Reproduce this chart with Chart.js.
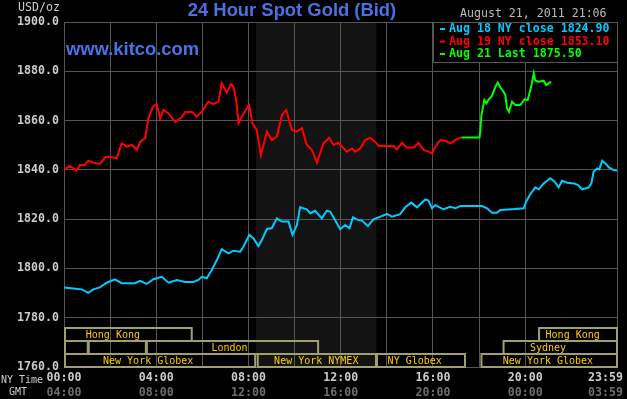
<!DOCTYPE html>
<html>
<head>
<meta charset="utf-8">
<title>24 Hour Spot Gold</title>
<script src="https://cdn.jsdelivr.net/npm/chart.js@4/dist/chart.umd.min.js"></script>
<style>
  html, body { margin: 0; padding: 0; background: #000; }
  canvas { display: block; }
</style>
</head>
<body>
<canvas id="goldChart" width="627" height="399"></canvas>
<script>
// hours after 00:00 NY time, price in USD/oz
const aug18Hours = [0, 0.4, 0.77, 1.05, 1.27, 1.56, 1.85, 2.21, 2.5, 2.79, 3.08, 3.3, 3.59, 3.88, 4.24, 4.53, 4.89, 5.25, 5.61, 5.83, 5.98, 6.19, 6.41, 6.63, 6.84, 7.13, 7.35, 7.64, 7.78, 8.04, 8.22, 8.43, 8.58, 8.8, 9.01, 9.23, 9.45, 9.74, 9.91, 10.1, 10.24, 10.53, 10.68, 10.89, 11.18, 11.4, 11.55, 11.76, 11.98, 12.2, 12.38, 12.53, 12.77, 12.92, 13.18, 13.42, 13.72, 14.01, 14.22, 14.58, 14.8, 15.06, 15.31, 15.67, 15.81, 15.96, 16.1, 16.46, 16.75, 16.97, 17.19, 18.13, 18.35, 18.56, 18.78, 18.92, 19.43, 19.94, 20.04, 20.23, 20.44, 20.59, 20.8, 21.09, 21.28, 21.45, 21.6, 21.82, 22.11, 22.3, 22.47, 22.76, 22.87, 22.97, 23.12, 23.22, 23.34, 23.48, 23.63, 23.84, 23.98];
const aug18Values = [1792.3, 1791.9, 1791.5, 1790.1, 1791.5, 1792.3, 1794.2, 1795.6, 1794.0, 1794.0, 1794.0, 1795.0, 1793.7, 1795.6, 1796.6, 1794.2, 1795.3, 1794.5, 1794.5, 1795.3, 1796.6, 1796.0, 1799.4, 1803.4, 1807.8, 1806.1, 1807.2, 1806.8, 1808.8, 1813.6, 1812.2, 1809.1, 1811.5, 1816.0, 1816.3, 1820.3, 1819.0, 1819.0, 1813.6, 1817.6, 1824.8, 1824.0, 1822.4, 1823.4, 1820.3, 1823.4, 1823.0, 1819.6, 1815.9, 1817.6, 1816.3, 1820.7, 1819.6, 1819.4, 1817.2, 1819.9, 1821.0, 1822.1, 1821.0, 1822.0, 1824.8, 1826.7, 1824.8, 1828.0, 1827.5, 1824.4, 1825.7, 1824.0, 1825.0, 1824.4, 1825.3, 1825.3, 1824.4, 1822.6, 1822.6, 1823.7, 1824.0, 1824.4, 1827.1, 1830.2, 1832.9, 1832.1, 1834.5, 1836.6, 1835.2, 1832.9, 1835.6, 1834.8, 1834.5, 1833.8, 1832.1, 1832.9, 1834.5, 1839.2, 1840.6, 1840.2, 1843.7, 1842.6, 1841.0, 1839.9, 1839.7];

const aug19Hours = [0, 0.26, 0.55, 0.69, 0.91, 1.05, 1.27, 1.56, 1.78, 2.0, 2.29, 2.5, 2.72, 2.94, 3.16, 3.3, 3.52, 3.66, 3.85, 4.02, 4.17, 4.31, 4.53, 4.82, 5.11, 5.25, 5.54, 5.76, 5.98, 6.26, 6.48, 6.7, 6.84, 7.06, 7.24, 7.35, 7.47, 7.57, 7.71, 7.93, 8.03, 8.17, 8.36, 8.54, 8.8, 9.01, 9.23, 9.45, 9.64, 9.88, 10.1, 10.32, 10.53, 10.75, 10.97, 11.25, 11.5, 11.69, 11.9, 12.27, 12.49, 12.63, 12.85, 13.06, 13.28, 13.5, 13.64, 14.01, 14.29, 14.44, 14.66, 14.87, 15.16, 15.38, 15.59, 15.81, 15.96, 16.1, 16.32, 16.54, 16.75, 16.97, 17.23];
const aug19Values = [1840.2, 1841.6, 1839.7, 1842.0, 1842.0, 1843.7, 1842.9, 1842.4, 1845.1, 1845.3, 1844.7, 1850.8, 1849.4, 1850.1, 1848.1, 1851.4, 1852.8, 1860.9, 1865.6, 1866.7, 1860.9, 1864.3, 1862.9, 1859.5, 1861.3, 1863.4, 1863.6, 1861.6, 1863.6, 1867.7, 1866.7, 1867.7, 1875.1, 1871.3, 1874.8, 1873.7, 1868.3, 1858.9, 1861.6, 1865.0, 1866.3, 1858.9, 1856.2, 1846.0, 1855.5, 1852.1, 1853.5, 1862.3, 1864.3, 1856.2, 1855.5, 1856.9, 1850.1, 1848.1, 1842.9, 1850.8, 1853.0, 1850.1, 1851.0, 1847.4, 1848.7, 1847.4, 1848.7, 1852.1, 1853.0, 1851.4, 1849.7, 1849.7, 1849.7, 1848.3, 1851.0, 1849.1, 1849.1, 1851.0, 1848.1, 1847.4, 1846.7, 1849.4, 1852.1, 1851.8, 1850.8, 1852.1, 1853.2];

const aug21Hours = [17.23, 18.02, 18.06, 18.1, 18.16, 18.23, 18.32, 18.42, 18.56, 18.71, 18.81, 18.92, 19.04, 19.14, 19.21, 19.3, 19.43, 19.57, 19.79, 19.97, 20.11, 20.26, 20.37, 20.44, 20.59, 20.8, 20.92, 21.02, 21.12];
const aug21Values = [1853.1, 1853.1, 1856.2, 1861.9, 1865.0, 1868.3, 1867.0, 1868.6, 1870.0, 1873.7, 1875.4, 1873.5, 1872.1, 1870.4, 1865.0, 1863.6, 1867.7, 1866.3, 1866.3, 1868.6, 1868.3, 1873.7, 1879.2, 1876.2, 1875.8, 1876.2, 1874.4, 1875.1, 1875.8];

const seriesNames = ['Aug 18 NY close 1824.90', 'Aug 19 NY close 1853.10', 'Aug 21 Last 1875.50'];
const seriesColors = ['#00ccff', '#ff0000', '#00ff00'];

const yTicks = [1760, 1780, 1800, 1820, 1840, 1860, 1880, 1900];
const labelHours = [0, 4, 8, 12, 16, 20, 23.983];
const nyTimeLabels = ['00:00', '04:00', '08:00', '12:00', '16:00', '20:00', '23:59'];
const gmtLabels = ['04:00', '08:00', '12:00', '16:00', '20:00', '00:00', '03:59'];

// trading sessions (row 0 = top)
const sessionNames = ['Hong Kong', 'Hong Kong', '', '', 'London', 'Sydney', 'New York Globex', 'New York NYMEX', 'NY Globex', 'New York Globex'];
const sessionRows = [0, 0, 1, 1, 1, 1, 2, 2, 2, 2];
const sessionStart = [0, 20.56, 0, 1.03, 3.55, 19.02, 0, 8.36, 13.53, 18.06];
const sessionEnd = [5.54, 24, 1.03, 3.55, 11.02, 24, 8.29, 13.53, 17.39, 24];
const sessionLabelAt = [2.12, 22.06, 0, 0, 7.18, 20.99, 3.65, 10.94, 15.21, 20.99];
const pitHours = [8.33, 13.55];

const mono = "'DejaVu Sans Mono', 'Liberation Mono', monospace";

function toPoints(hours, values) {
    return hours.map(function (h, i) { return { x: h, y: values[i] }; });
}

const decor = {
    id: 'decor',
    beforeDraw: function (chart) {
        const ctx = chart.ctx, a = chart.chartArea, x = chart.scales.x;
        ctx.save();
        ctx.fillStyle = '#000';
        ctx.fillRect(0, 0, chart.width, chart.height);
        const x1 = x.getPixelForValue(pitHours[0]);
        const x2 = x.getPixelForValue(pitHours[1]);
        ctx.fillStyle = '#131313';
        ctx.fillRect(x1, a.top, x2 - x1, a.bottom - a.top);
        ctx.restore();
    },
    afterDatasetsDraw: function (chart) {
        const ctx = chart.ctx, a = chart.chartArea, x = chart.scales.x;
        ctx.save();

        // session boxes
        const rowH = 13, rowTop = a.bottom - 3 * rowH;
        ctx.lineWidth = 2;
        ctx.strokeStyle = '#a09f6e';
        ctx.font = '10px ' + mono;
        ctx.textAlign = 'center';
        ctx.textBaseline = 'middle';
        for (let i = 0; i < sessionNames.length; i++) {
            const s = x.getPixelForValue(Math.max(sessionStart[i], x.min));
            const e = x.getPixelForValue(Math.min(sessionEnd[i], x.max));
            const top = rowTop + sessionRows[i] * rowH;
            ctx.strokeRect(s + 1, top, e - s - 1, rowH);
            if (sessionNames[i]) {
                ctx.fillStyle = '#ffcc00';
                ctx.fillText(sessionNames[i], x.getPixelForValue(sessionLabelAt[i]), top + rowH / 2 + 0.5);
            }
        }

        // legend box
        ctx.fillStyle = '#000';
        ctx.fillRect(433, a.top, a.right - 433, 40);
        ctx.strokeStyle = '#555';
        ctx.lineWidth = 1;
        ctx.strokeRect(433.5, a.top + 0.5, a.right - 433, 40);
        ctx.font = 'bold 11.6px ' + mono;
        ctx.textAlign = 'left';
        for (let i = 0; i < seriesNames.length; i++) {
            const ly = a.top + 7 + i * 12.5;
            ctx.fillStyle = seriesColors[i];
            ctx.fillRect(440, ly - 1, 5, 2);
            ctx.fillText(seriesNames[i], 449, ly);
        }

        // titles
        ctx.fillStyle = '#4a72e6';
        ctx.font = 'bold 18.4px "Liberation Sans", Arial, sans-serif';
        ctx.textAlign = 'center';
        ctx.fillText('24 Hour Spot Gold (Bid)', 292, 11);
        ctx.textAlign = 'left';
        ctx.textBaseline = 'alphabetic';
        ctx.fillText('www.kitco.com', 66, 55);

        ctx.textBaseline = 'middle';
        ctx.fillStyle = '#bbbbbb';
        ctx.font = '11.6px ' + mono;
        ctx.fillText('August 21, 2011 21:06', 460, 14);
        ctx.textAlign = 'right';
        ctx.fillStyle = '#cccccc';
        ctx.fillText('USD/oz', 60, 8);

        // time axis labels
        ctx.font = '10px ' + mono;
        ctx.textAlign = 'left';
        ctx.fillText('NY Time', 1, 380);
        ctx.textAlign = 'center';
        ctx.fillText('GMT', 18, 392);
        ctx.font = 'bold 11.6px ' + mono;
        for (let i = 0; i < labelHours.length; i++) {
            let px = x.getPixelForValue(labelHours[i]);
            const w = ctx.measureText(nyTimeLabels[i]).width;
            px = Math.min(px, 623 - w / 2);
            ctx.fillStyle = '#cccccc';
            ctx.fillText(nyTimeLabels[i], px, 378);
            ctx.fillStyle = '#6e6e6e';
            ctx.fillText(gmtLabels[i], px, 393);
        }
        ctx.restore();
    }
};

window.onload = function () {
    const ctx = document.getElementById('goldChart').getContext('2d');

    const goldChart = new Chart(ctx, {
        type: 'line',
        data: {
            datasets: [
                {
                    label: seriesNames[0],
                    data: toPoints(aug18Hours, aug18Values),
                    borderColor: seriesColors[0],
                    borderWidth: 2,
                },
                {
                    label: seriesNames[1],
                    data: toPoints(aug19Hours, aug19Values),
                    borderColor: seriesColors[1],
                    borderWidth: 2,
                },
                {
                    label: seriesNames[2],
                    data: toPoints(aug21Hours, aug21Values),
                    borderColor: seriesColors[2],
                    borderWidth: 2,
                }
            ]
        },
        options: {
            responsive: false,
            animation: false,
            devicePixelRatio: 1,
            layout: {
                padding: { top: 22, right: 10, left: 0, bottom: 0 }
            },
            elements: {
                point: { radius: 0 },
                line: { tension: 0 }
            },
            plugins: {
                legend: { display: false },
                tooltip: { enabled: false }
            },
            scales: {
                x: {
                    type: 'linear',
                    min: 0,
                    max: 23.983,
                    ticks: { display: false, stepSize: 2 },
                    grid: { color: '#555', lineWidth: 1, drawTicks: false },
                    border: { color: '#555' },
                    afterFit: function (scale) { scale.height = 32; }
                },
                y: {
                    min: yTicks[0],
                    max: yTicks[yTicks.length - 1],
                    afterBuildTicks: function (scale) {
                        scale.ticks = yTicks.map(function (v) { return { value: v }; });
                    },
                    ticks: {
                        color: '#cccccc',
                        padding: 5,
                        font: { family: mono, size: 11.6, weight: 'bold' },
                        callback: function (value) { return value.toFixed(1); }
                    },
                    grid: { color: '#555', lineWidth: 1, drawTicks: false },
                    border: { color: '#555' },
                    afterFit: function (scale) { scale.width = 64; }
                }
            }
        },
        plugins: [decor]
    });
};
</script>
</body>
</html>
